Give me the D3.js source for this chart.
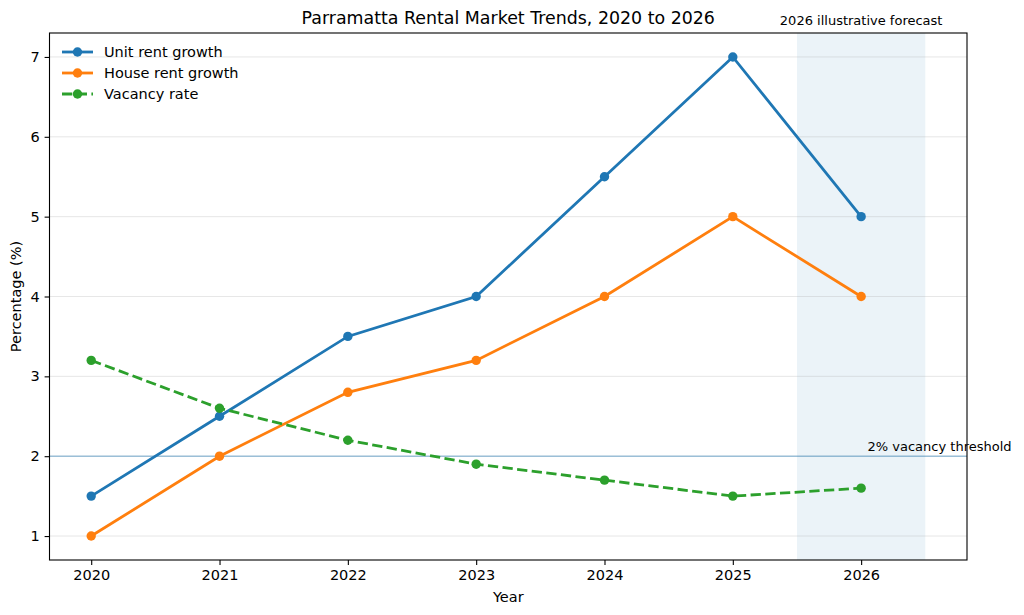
<!DOCTYPE html>
<html lang="en">
<head>
    <meta charset="UTF-8">
    <title>Parramatta Rental Market Trends</title>
    <script src="https://d3js.org/d3.v7.min.js"></script>
    <style>
        body { margin: 0; background: #fff; font-family: "DejaVu Sans", sans-serif; }
        svg { display: block; }
        .tick text { font-size: 14.5px; fill: #000; font-family: "DejaVu Sans", sans-serif; }
    </style>
</head>
<body>
<div id="container"></div>
<script>
    // data
    const years = [2020, 2021, 2022, 2023, 2024, 2025, 2026];
    const unitRent = [1.5, 2.5, 3.5, 4.0, 5.5, 7.0, 5.0];
    const houseRent = [1.0, 2.0, 2.8, 3.2, 4.0, 5.0, 4.0];
    const vacancy = [3.2, 2.6, 2.2, 1.9, 1.7, 1.5, 1.6];
    const yTicks = [1, 2, 3, 4, 5, 6, 7];
    const threshold = 2;
    const forecastSpan = [2025.5, 2026.5];

    const series = [
        { name: 'Unit rent growth', values: unitRent, color: '#1f77b4', dash: null },
        { name: 'House rent growth', values: houseRent, color: '#ff7f0e', dash: null },
        { name: 'Vacancy rate', values: vacancy, color: '#2ca02c', dash: '10.3,4.4' }
    ];

    const W = 1024, H = 615;
    const mLeft = 49.5, mRight = 967, mTop = 33, mBottom = 560;

    const svg = d3.select('#container').append('svg')
        .attr('width', W).attr('height', H);

    const x = d3.scaleLinear().domain([2019.675, 2026.825]).range([mLeft, mRight]);
    const y = d3.scaleLinear().domain([0.7, 7.3]).range([mBottom, mTop]);

    // forecast shade
    svg.append('rect')
        .attr('x', x(forecastSpan[0]))
        .attr('y', mTop)
        .attr('width', x(forecastSpan[1]) - x(forecastSpan[0]))
        .attr('height', mBottom - mTop)
        .attr('fill', '#1f77b4').attr('fill-opacity', 0.09);

    // grid
    svg.append('g').selectAll('line')
        .data(yTicks).enter().append('line')
        .attr('x1', mLeft).attr('x2', mRight)
        .attr('y1', d => y(d)).attr('y2', d => y(d))
        .attr('stroke', '#b0b0b0').attr('stroke-opacity', 0.3).attr('stroke-width', 1);

    // threshold line
    svg.append('line')
        .attr('x1', mLeft).attr('x2', mRight)
        .attr('y1', y(threshold)).attr('y2', y(threshold))
        .attr('stroke', '#1f77b4').attr('stroke-opacity', 0.4).attr('stroke-width', 1.4);

    svg.append('text')
        .attr('x', x(2026.05)).attr('y', y(threshold) - 5)
        .attr('font-size', 13)
        .text('2% vacancy threshold');

    // lines
    const line = d3.line().x((d, i) => x(years[i])).y(d => y(d));

    series.forEach(s => {
        svg.append('path')
            .datum(s.values)
            .attr('d', line)
            .attr('fill', 'none')
            .attr('stroke', s.color)
            .attr('stroke-width', 2.8)
            .attr('stroke-dasharray', s.dash);

        svg.append('g').selectAll('circle')
            .data(s.values).enter().append('circle')
            .attr('cx', (d, i) => x(years[i]))
            .attr('cy', d => y(d))
            .attr('r', 4.7)
            .attr('fill', s.color);
    });

    // axes
    const xAxis = svg.append('g')
        .attr('transform', `translate(0,${mBottom})`)
        .call(d3.axisBottom(x).tickValues(years).tickFormat(d3.format('d')).tickSizeOuter(0).tickSize(4.9).tickPadding(5));
    const yAxis = svg.append('g')
        .attr('transform', `translate(${mLeft},0)`)
        .call(d3.axisLeft(y).tickValues(yTicks).tickFormat(d3.format('d')).tickSizeOuter(0).tickSize(4.9).tickPadding(5));
    [xAxis, yAxis].forEach(a => {
        a.select('.domain').remove();
        a.selectAll('.tick line').attr('stroke', '#000').attr('stroke-width', 1.1);
    });

    // frame
    svg.append('rect')
        .attr('x', mLeft).attr('y', mTop)
        .attr('width', mRight - mLeft).attr('height', mBottom - mTop)
        .attr('fill', 'none').attr('stroke', '#000').attr('stroke-width', 1.1);

    // labels
    svg.append('text')
        .attr('x', (mLeft + mRight) / 2).attr('y', 24)
        .attr('text-anchor', 'middle').attr('font-size', 17.4)
        .text('Parramatta Rental Market Trends, 2020 to 2026');

    svg.append('text')
        .attr('x', x(2026)).attr('y', 25)
        .attr('text-anchor', 'middle').attr('font-size', 13)
        .text('2026 illustrative forecast');

    svg.append('text')
        .attr('x', (mLeft + mRight) / 2).attr('y', 602)
        .attr('text-anchor', 'middle').attr('font-size', 14.5)
        .text('Year');

    svg.append('text')
        .attr('transform', `translate(21,${(mTop + mBottom) / 2}) rotate(-90)`)
        .attr('text-anchor', 'middle').attr('font-size', 14.5)
        .text('Percentage (%)');

    // legend
    const legend = svg.append('g').attr('transform', `translate(62,52)`);
    series.forEach((s, i) => {
        const g = legend.append('g').attr('transform', `translate(0,${i * 21})`);
        g.append('line')
            .attr('x1', 0).attr('x2', 31).attr('y1', 0).attr('y2', 0)
            .attr('stroke', s.color).attr('stroke-width', 2.8)
            .attr('stroke-dasharray', s.dash);
        g.append('circle').attr('cx', 15.5).attr('cy', 0).attr('r', 4.7).attr('fill', s.color);
        g.append('text').attr('x', 42).attr('y', 5).attr('font-size', 14.5).text(s.name);
    });
</script>
</body>
</html>
